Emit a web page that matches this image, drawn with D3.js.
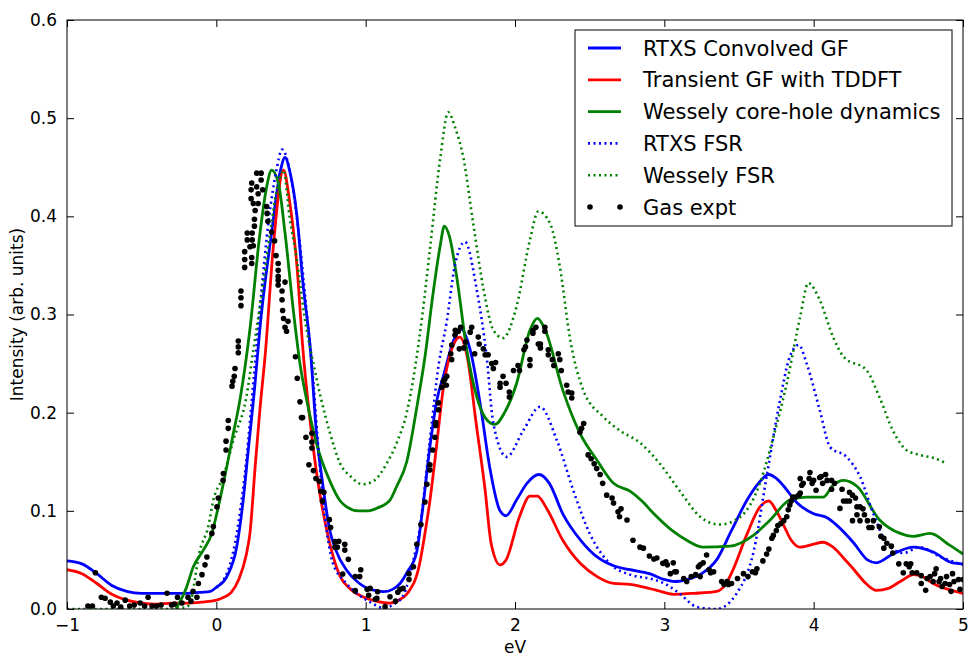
<!DOCTYPE html>
<html><head><meta charset="utf-8">
<script src="https://cdn.jsdelivr.net/npm/d3@7"></script>
<style>body{margin:0;background:#fff}svg{display:block}text{font-family:"DejaVu Sans",sans-serif}</style>
</head><body><svg id="c" width="968" height="657"></svg>
<script>
// ---- data ----
const xTicks = [-1, 0, 1, 2, 3, 4, 5];
const xTickLabels = ["\u22121", "0", "1", "2", "3", "4", "5"];
const yTicks = [0, 0.1, 0.2, 0.3, 0.4, 0.5, 0.6];
const yTickLabels = ["0.0", "0.1", "0.2", "0.3", "0.4", "0.5", "0.6"];
const seriesNames = ["RTXS Convolved GF", "Transient GF with TDDFT", "Wessely core-hole dynamics", "RTXS FSR", "Wessely FSR", "Gas expt"];

const rtxsGF_x = [-1,-0.9,-0.8,-0.7,-0.6,-0.5,-0.4,-0.3,-0.2,-0.1,-0.04,0,0.07,0.136,0.18,0.214,0.25,0.3,0.37,0.43,0.46,0.49,0.54,0.58,0.63,0.67,0.71,0.76,0.8,0.87,0.95,1.0,1.06,1.12,1.18,1.23,1.28,1.34,1.38,1.43,1.48,1.52,1.59,1.64,1.7,1.77,1.83,1.9,1.94,2.01,2.08,2.16,2.23,2.32,2.44,2.55,2.66,2.77,2.9,3.0,3.07,3.15,3.25,3.35,3.45,3.55,3.63,3.7,3.75,3.8,3.89,4.0,4.09,4.15,4.27,4.36,4.42,4.53,4.67,4.8,4.93,5.0];
const rtxsGF_y = [0.049,0.046,0.036,0.024,0.018,0.016,0.016,0.016,0.016,0.017,0.018,0.022,0.033,0.063,0.111,0.162,0.215,0.298,0.383,0.447,0.46,0.447,0.40,0.332,0.264,0.18,0.13,0.08,0.06,0.04,0.027,0.022,0.019,0.0176,0.02,0.026,0.038,0.057,0.1,0.165,0.215,0.237,0.274,0.285,0.264,0.206,0.145,0.1,0.095,0.111,0.128,0.137,0.128,0.097,0.07,0.053,0.044,0.04,0.036,0.03,0.028,0.03,0.036,0.05,0.08,0.11,0.128,0.137,0.133,0.125,0.108,0.097,0.093,0.086,0.067,0.05,0.047,0.056,0.063,0.058,0.047,0.046];

const tddft_x = [-1,-0.9,-0.8,-0.7,-0.6,-0.5,-0.4,-0.3,-0.2,-0.1,0,0.05,0.1,0.15,0.2,0.225,0.26,0.29,0.33,0.38,0.45,0.49,0.54,0.58,0.63,0.67,0.74,0.83,0.9,0.98,1.07,1.16,1.22,1.28,1.36,1.4,1.43,1.47,1.52,1.59,1.63,1.68,1.74,1.8,1.84,1.9,1.94,2.03,2.1,2.15,2.21,2.32,2.44,2.55,2.66,2.77,2.84,2.95,3.06,3.2,3.35,3.41,3.46,3.55,3.64,3.7,3.75,3.8,3.85,3.91,4.0,4.06,4.13,4.2,4.27,4.35,4.42,4.5,4.58,4.67,4.73,4.8,4.9,5.0];
const tddft_y = [0.04,0.036,0.026,0.015,0.009,0.006,0.005,0.006,0.006,0.007,0.009,0.012,0.017,0.03,0.055,0.077,0.145,0.2,0.264,0.366,0.447,0.416,0.349,0.264,0.189,0.14,0.08,0.033,0.02,0.0125,0.008,0.006,0.009,0.016,0.045,0.08,0.11,0.16,0.225,0.27,0.277,0.257,0.189,0.121,0.067,0.045,0.05,0.094,0.115,0.115,0.103,0.07,0.046,0.033,0.026,0.025,0.023,0.019,0.015,0.016,0.018,0.025,0.04,0.075,0.104,0.11,0.1,0.085,0.07,0.063,0.066,0.068,0.063,0.052,0.04,0.026,0.019,0.021,0.028,0.035,0.033,0.026,0.02,0.016];

const wessely_x = [-0.27,-0.2,-0.154,-0.087,-0.03,0.013,0.07,0.114,0.158,0.225,0.29,0.337,0.37,0.415,0.46,0.515,0.56,0.605,0.672,0.761,0.83,0.873,0.95,1.018,1.08,1.163,1.208,1.275,1.342,1.4,1.45,1.498,1.527,1.56,1.61,1.677,1.744,1.8,1.866,1.93,2.011,2.1,2.15,2.2,2.32,2.435,2.547,2.66,2.77,2.85,2.93,3.06,3.15,3.26,3.44,3.596,3.71,3.84,3.95,4.065,4.13,4.2,4.29,4.44,4.58,4.667,4.78,4.91,5.0];
const wessely_y = [0,0.022,0.043,0.06,0.077,0.104,0.145,0.179,0.213,0.285,0.38,0.43,0.447,0.434,0.383,0.305,0.25,0.213,0.168,0.13,0.11,0.104,0.1,0.1,0.103,0.111,0.125,0.15,0.205,0.26,0.32,0.369,0.39,0.38,0.338,0.264,0.216,0.195,0.188,0.2,0.23,0.284,0.296,0.285,0.223,0.179,0.152,0.128,0.12,0.11,0.097,0.079,0.07,0.063,0.064,0.075,0.091,0.111,0.114,0.114,0.126,0.131,0.125,0.091,0.077,0.074,0.077,0.065,0.056];

const rtxsFSR_x = [0,0.05,0.1,0.15,0.2,0.25,0.3,0.35,0.4,0.44,0.5,0.55,0.6,0.65,0.69,0.73,0.78,0.86,0.94,1.03,1.12,1.2,1.25,1.32,1.36,1.43,1.49,1.54,1.6,1.665,1.744,1.81,1.855,1.944,2.056,2.168,2.28,2.39,2.5,2.66,2.77,2.93,3.0,3.1,3.22,3.35,3.485,3.6,3.685,3.775,3.84,3.9,3.953,4.04,4.11,4.22,4.31,4.4,4.49,4.6,4.71,4.85,5.0];
const rtxsFSR_y = [0.022,0.03,0.05,0.09,0.15,0.235,0.32,0.395,0.445,0.468,0.44,0.385,0.31,0.23,0.15,0.09,0.047,0.028,0.016,0.007,0.001,0.006,0.013,0.05,0.08,0.172,0.25,0.29,0.352,0.374,0.325,0.257,0.189,0.155,0.182,0.206,0.172,0.121,0.077,0.043,0.035,0.03,0.026,0.016,0.002,0.0,0.016,0.06,0.135,0.213,0.257,0.269,0.25,0.203,0.165,0.155,0.135,0.097,0.067,0.057,0.063,0.053,0.045];

const wesselyFSR_x = [-1,-0.6,-0.3,-0.2,-0.176,-0.11,-0.054,-0.02,0.047,0.114,0.2,0.248,0.315,0.36,0.415,0.45,0.49,0.54,0.59,0.65,0.7,0.76,0.83,0.9,0.98,1.05,1.14,1.21,1.275,1.33,1.38,1.43,1.5,1.553,1.6,1.654,1.72,1.79,1.855,1.92,2.01,2.1,2.156,2.234,2.3,2.37,2.457,2.59,2.7,2.84,2.97,3.1,3.24,3.37,3.51,3.64,3.73,3.82,3.91,3.964,4.04,4.13,4.2,4.355,4.44,4.53,4.62,4.71,4.82,4.88];
const wesselyFSR_y = [0,0,0,0.002,0.006,0.06,0.084,0.111,0.135,0.172,0.215,0.264,0.332,0.383,0.434,0.447,0.40,0.355,0.298,0.25,0.215,0.18,0.148,0.135,0.127,0.13,0.148,0.17,0.2,0.245,0.3,0.366,0.46,0.506,0.49,0.46,0.393,0.325,0.284,0.276,0.308,0.376,0.405,0.393,0.349,0.274,0.223,0.196,0.182,0.169,0.148,0.121,0.094,0.086,0.094,0.128,0.175,0.23,0.298,0.332,0.315,0.277,0.257,0.243,0.216,0.182,0.162,0.157,0.153,0.149];

const expt_x = [-0.86,-0.83,-0.81,-0.77,-0.745,-0.71,-0.69,-0.665,-0.64,-0.61,-0.58,-0.55,-0.51,-0.48,-0.457,-0.43,-0.4,-0.37,-0.33,-0.3,-0.28,-0.26,-0.23,-0.19,-0.17,-0.156,-0.13,-0.12,-0.096,-0.076,-0.063,-0.03,-0.02,0.004,0.013,0.045,0.047,0.065,0.065,0.08,0.08,0.105,0.11,0.12,0.125,0.147,0.147,0.147,0.165,0.165,0.165,0.19,0.19,0.19,0.207,0.207,0.225,0.237,0.237,0.24,0.24,0.248,0.255,0.255,0.248,0.26,0.233,0.233,0.237,0.27,0.27,0.28,0.28,0.30,0.30,0.31,0.337,0.34,0.345,0.37,0.39,0.40,0.414,0.414,0.414,0.414,0.414,0.44,0.46,0.44,0.444,0.45,0.48,0.46,0.47,0.53,0.542,0.56,0.57,0.578,0.60,0.64,0.64,0.64,0.62,0.65,0.667,0.69,0.70,0.72,0.71,0.757,0.765,0.795,0.82,0.795,0.81,0.86,0.86,0.884,0.846,0.93,0.967,0.96,0.93,1.01,1.03,1.02,1.08,1.075,1.065,1.163,1.2,1.13,1.215,1.23,1.25,1.29,1.29,1.32,1.342,1.37,1.397,1.41,1.43,1.43,1.449,1.464,1.47,1.47,1.487,1.487,1.51,1.52,1.53,1.54,1.543,1.576,1.57,1.576,1.598,1.6,1.62,1.636,1.627,1.657,1.67,1.70,1.71,1.73,1.754,1.76,1.788,1.8,1.82,1.844,1.855,1.87,1.90,1.92,1.90,1.94,1.962,1.962,1.99,2.02,2.03,2.06,2.07,2.08,2.10,2.10,2.12,2.12,2.14,2.156,2.17,2.17,2.20,2.20,2.223,2.223,2.25,2.26,2.29,2.30,2.31,2.346,2.356,2.38,2.38,2.435,2.446,2.46,2.49,2.51,2.53,2.547,2.57,2.587,2.614,2.65,2.66,2.69,2.71,2.70,2.75,2.79,2.837,2.86,2.90,2.93,2.95,2.99,3.01,3.02,3.06,3.07,3.04,3.08,3.13,3.15,3.18,3.21,3.228,3.24,3.26,3.283,3.30,3.31,3.33,3.24,3.384,3.40,3.42,3.43,3.45,3.49,3.53,3.56,3.59,3.61,3.62,3.66,3.685,3.70,3.72,3.73,3.75,3.76,3.78,3.80,3.82,3.83,3.84,3.85,3.86,3.88,3.90,3.91,3.91,3.92,3.93,3.975,3.97,3.99,4.0,4.016,4.04,4.05,4.06,4.08,4.09,4.12,4.12,4.14,4.176,4.19,4.20,4.22,4.24,4.24,4.26,4.28,4.29,4.26,4.29,4.31,4.33,4.31,4.34,4.36,4.37,4.39,4.40,4.44,4.45,4.47,4.47,4.49,4.52,4.53,4.57,4.60,4.62,4.64,4.65,4.66,4.69,4.72,4.75,4.72,4.76,4.78,4.80,4.81,4.82,4.84,4.85,4.86,4.88,4.89,4.91,4.92,4.93,4.94,4.97,4.98,5.0];
const expt_y = [0.003,0.003,0.037,0.012,0.011,0.007,0.003,0.006,0.002,0.009,0.003,0.004,0.006,0.003,0.012,0.003,0.003,0.004,0.016,0.004,0.005,0.012,0.006,0.012,0.008,0.018,0.012,0.026,0.035,0.045,0.053,0.077,0.084,0.104,0.113,0.131,0.138,0.162,0.171,0.184,0.192,0.227,0.232,0.237,0.245,0.261,0.267,0.273,0.309,0.317,0.324,0.348,0.356,0.364,0.376,0.383,0.369,0.352,0.358,0.376,0.383,0.37,0.39,0.397,0.413,0.406,0.418,0.427,0.434,0.43,0.444,0.413,0.423,0.437,0.444,0.427,0.41,0.403,0.395,0.384,0.375,0.36,0.352,0.345,0.339,0.335,0.33,0.324,0.333,0.315,0.304,0.296,0.293,0.287,0.283,0.257,0.235,0.211,0.195,0.195,0.175,0.179,0.17,0.164,0.147,0.141,0.133,0.13,0.12,0.119,0.11,0.091,0.083,0.0686,0.069,0.063,0.063,0.066,0.06,0.0506,0.0356,0.033,0.04,0.033,0.0187,0.02,0.021,0.014,0.0176,0.011,0.01,0.0125,0.008,0.0024,0.017,0.02,0.021,0.03,0.036,0.043,0.066,0.086,0.109,0.127,0.1415,0.147,0.162,0.175,0.187,0.19,0.203,0.21,0.226,0.232,0.234,0.228,0.237,0.254,0.26,0.269,0.279,0.284,0.283,0.287,0.265,0.266,0.272,0.282,0.287,0.26,0.277,0.27,0.265,0.259,0.259,0.25,0.245,0.251,0.23,0.237,0.226,0.23,0.221,0.216,0.243,0.248,0.243,0.264,0.267,0.274,0.254,0.248,0.284,0.281,0.287,0.27,0.266,0.27,0.287,0.283,0.264,0.259,0.254,0.248,0.26,0.254,0.243,0.228,0.221,0.22,0.215,0.18,0.184,0.189,0.157,0.153,0.148,0.143,0.137,0.128,0.116,0.113,0.108,0.099,0.102,0.094,0.0906,0.07,0.063,0.062,0.054,0.051,0.052,0.0465,0.048,0.045,0.047,0.038,0.036,0.038,0.031,0.028,0.033,0.035,0.043,0.045,0.047,0.055,0.04,0.037,0.038,0.033,0.028,0.025,0.028,0.025,0.026,0.031,0.036,0.033,0.038,0.037,0.041,0.049,0.056,0.061,0.072,0.075,0.08,0.085,0.087,0.09,0.094,0.101,0.106,0.11,0.114,0.114,0.116,0.118,0.133,0.126,0.128,0.139,0.133,0.128,0.131,0.121,0.134,0.135,0.128,0.137,0.131,0.131,0.122,0.128,0.1025,0.122,0.11,0.11,0.11,0.119,0.116,0.113,0.096,0.09,0.104,0.104,0.102,0.09,0.096,0.09,0.083,0.083,0.09,0.0838,0.074,0.062,0.072,0.067,0.064,0.057,0.046,0.037,0.046,0.043,0.046,0.037,0.037,0.034,0.019,0.026,0.031,0.033,0.028,0.036,0.041,0.028,0.031,0.023,0.026,0.033,0.025,0.018,0.036,0.028,0.03,0.02,0.03];

// ---- layout ----
const W = 968, H = 657;
const m = {left: 67, right: 5, top: 20, bottom: 48};
const svg = d3.select("#c");
svg.append("rect").attr("width", W).attr("height", H).attr("fill", "#fff");

const x = d3.scaleLinear().domain([-1, 5]).range([m.left, W - m.right]);
const y = d3.scaleLinear().domain([0, 0.6]).range([H - m.bottom, m.top]);

const g = svg.append("g");
svg.append("clipPath").attr("id", "pc").append("rect")
  .attr("x", m.left).attr("y", m.top).attr("width", x(5) - m.left).attr("height", y(0) - m.top);

const plot = g.append("g").attr("clip-path", "url(#pc)");
const line = d3.line().x(d => x(d[0])).y(d => y(d[1])).curve(d3.curveMonotoneX);
const zip = (xs, ys) => xs.map((v, i) => [v, ys[i]]);

const DOT = "2,3.5";
const lines = [
  {xs: rtxsGF_x, ys: rtxsGF_y, color: "#0000ff", dash: null},
  {xs: tddft_x, ys: tddft_y, color: "#ff0000", dash: null},
  {xs: wessely_x, ys: wessely_y, color: "#008000", dash: null},
  {xs: rtxsFSR_x, ys: rtxsFSR_y, color: "#0000ff", dash: DOT},
  {xs: wesselyFSR_x, ys: wesselyFSR_y, color: "#008000", dash: DOT}
];
lines.forEach(s => {
  plot.append("path").datum(zip(s.xs, s.ys))
    .attr("d", line).attr("fill", "none").attr("stroke", s.color)
    .attr("stroke-width", s.dash ? 2.6 : 2.8)
    .attr("stroke-dasharray", s.dash)
    .attr("stroke-linejoin", "round");
});
plot.selectAll("circle.expt").data(zip(expt_x, expt_y)).enter().append("circle")
  .attr("class", "expt").attr("cx", d => x(d[0])).attr("cy", d => y(d[1]))
  .attr("r", 2.8).attr("fill", "#000");

// frame
g.append("rect").attr("x", m.left).attr("y", m.top)
  .attr("width", x(5) - m.left).attr("height", y(0) - m.top)
  .attr("fill", "none").attr("stroke", "#000").attr("stroke-width", 1);

// axes with inward ticks
const tl = 7;
const xAxB = d3.axisBottom(x).tickValues(xTicks).tickFormat((d, i) => xTickLabels[i]).tickSizeInner(-tl).tickSizeOuter(0).tickPadding(10);
const xAxT = d3.axisTop(x).tickValues(xTicks).tickFormat("").tickSizeInner(-tl).tickSizeOuter(0);
const yAxL = d3.axisLeft(y).tickValues(yTicks).tickFormat((d, i) => yTickLabels[i]).tickSizeInner(-tl).tickSizeOuter(0).tickPadding(10);
const yAxR = d3.axisRight(y).tickValues(yTicks).tickFormat("").tickSizeInner(-tl).tickSizeOuter(0);
function style(sel) {
  sel.select(".domain").remove();
  sel.selectAll("line").attr("stroke", "#000");
  sel.selectAll("text").attr("fill", "#000").style("font-size", "17px").style("font-family", "DejaVu Sans");
}
g.append("g").attr("transform", `translate(0,${y(0)})`).call(xAxB).call(style);
g.append("g").attr("transform", `translate(0,${m.top})`).call(xAxT).call(style);
g.append("g").attr("transform", `translate(${m.left},0)`).call(yAxL).call(style);
g.append("g").attr("transform", `translate(${x(5)},0)`).call(yAxR).call(style);

// axis labels
g.append("text").attr("x", (m.left + x(5)) / 2).attr("y", 653).attr("text-anchor", "middle")
  .style("font-size", "17px").text("eV");
g.append("text").attr("transform", `translate(23,${(m.top + y(0)) / 2}) rotate(-90)`).attr("text-anchor", "middle")
  .style("font-size", "17px").text("Intensity (arb. units)");

// legend
const lg = g.append("g");
const lx = 575, ly = 30, lw = 377, lh = 196;
lg.append("rect").attr("x", lx).attr("y", ly).attr("width", lw).attr("height", lh)
  .attr("fill", "#fff").attr("stroke", "#000").attr("stroke-width", 1);
const legItems = [
  {color: "#0000ff", dash: null}, {color: "#ff0000", dash: null}, {color: "#008000", dash: null},
  {color: "#0000ff", dash: DOT}, {color: "#008000", dash: DOT}, {dot: true}
];
legItems.forEach((it, i) => {
  const cy = 48 + i * 31.8;
  if (it.dot) {
    lg.append("circle").attr("cx", 590).attr("cy", cy).attr("r", 2.8).attr("fill", "#000");
    lg.append("circle").attr("cx", 620).attr("cy", cy).attr("r", 2.8).attr("fill", "#000");
  } else {
    lg.append("line").attr("x1", 588).attr("x2", 621).attr("y1", cy).attr("y2", cy)
      .attr("stroke", it.color).attr("stroke-width", it.dash ? 2.6 : 2.8).attr("stroke-dasharray", it.dash);
  }
  lg.append("text").attr("x", 643).attr("y", cy).attr("dy", "0.36em")
    .style("font-size", "21px").text(seriesNames[i]);
});
</script></body></html>
